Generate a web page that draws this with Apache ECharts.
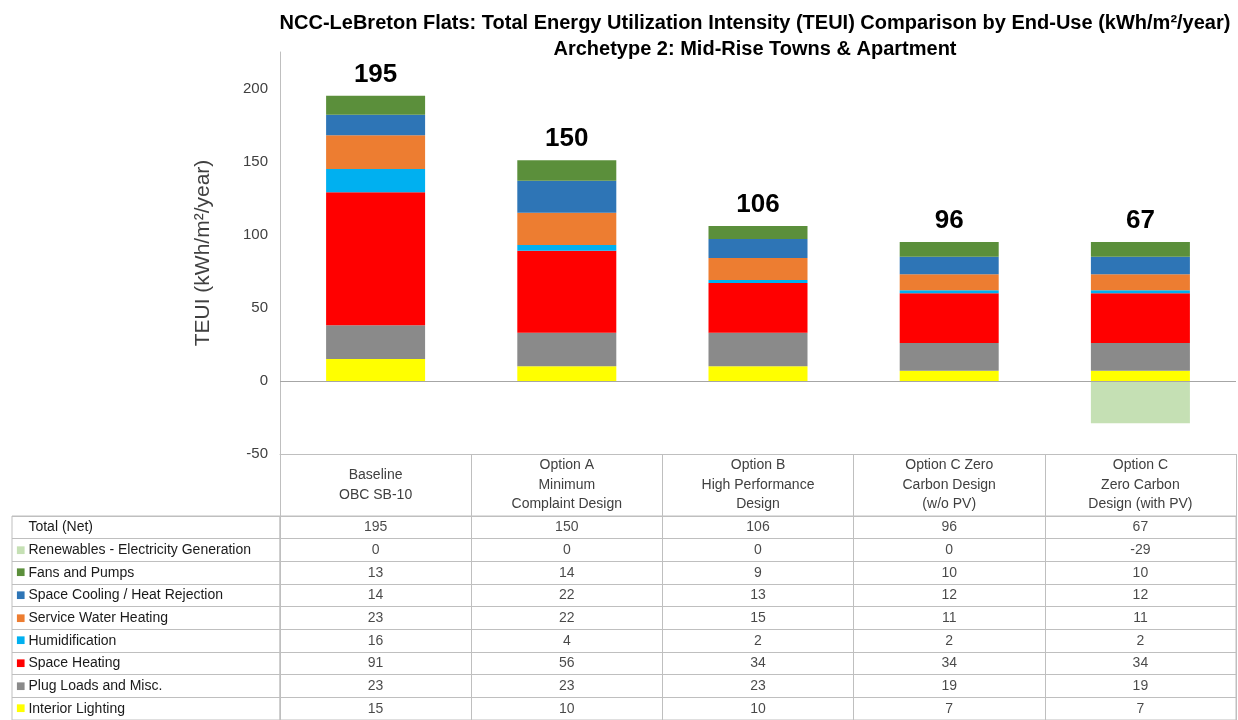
<!DOCTYPE html>
<html>
<head>
<meta charset="utf-8">
<script src="https://cdn.jsdelivr.net/npm/echarts@6/dist/echarts.min.js"></script>
<style>
  html, body { margin: 0; padding: 0; background: #fff; }
  #mychart { width: 1238px; height: 720px; }
</style>
</head>
<body>
<div id="mychart"></div>
<script>
  // categories and values
  var categories = [
    'Baseline\nOBC SB-10',
    'Option A\nMinimum\nComplaint Design',
    'Option B\nHigh Performance\nDesign',
    'Option C Zero\nCarbon Design\n(w/o PV)',
    'Option C\nZero Carbon\nDesign (with PV)'
  ]
  var totals = [195, 150, 106, 96, 67]
  var renewables = [0, 0, 0, 0, -29]
  var fansPumps = [13, 14, 9, 10, 10]
  var spaceCooling = [14, 22, 13, 12, 12]
  var serviceWater = [23, 22, 15, 11, 11]
  var humidification = [16, 4, 2, 2, 2]
  var spaceHeating = [91, 56, 34, 34, 34]
  var plugLoads = [23, 23, 23, 19, 19]
  var interiorLighting = [15, 10, 10, 7, 7]
  var yMin = -50
  var yMax = 225
  var yStep = 50

  var rowNames = [
    'Total (Net)',
    'Renewables - Electricity Generation',
    'Fans and Pumps',
    'Space Cooling / Heat Rejection',
    'Service Water Heating',
    'Humidification',
    'Space Heating',
    'Plug Loads and Misc.',
    'Interior Lighting'
  ]
  var rowValues = [totals, renewables, fansPumps, spaceCooling, serviceWater,
    humidification, spaceHeating, plugLoads, interiorLighting]

  var colors = {
    total: 'rgba(0,0,0,0)',
    renewables: '#c5e0b4',
    fans: '#5b8f3b',
    cooling: '#2e75b6',
    water: '#ed7d31',
    humid: '#00b0f0',
    heating: '#ff0000',
    plug: '#8a8a8a',
    lighting: '#ffff00'
  }
  var rowColors = [colors.total, colors.renewables, colors.fans, colors.cooling,
    colors.water, colors.humid, colors.heating, colors.plug, colors.lighting]

  var lineColor = '#bfbfbf'
  var textColor = '#404040'
  var font = 'Liberation Sans'

  var rich = { t: { fontSize: 14, color: '#1a1a1a', fontFamily: font, padding: [0, 0, 0, 3] } }
  rowColors.forEach(function (c, i) {
    rich['m' + i] = { fontSize: 10, color: c, fontFamily: 'DejaVu Sans' }
  })

  var cells = []
  rowValues.forEach(function (arr, r) {
    arr.forEach(function (v, c) {
      cells.push([c, r, v])
    })
  })

  function barSeries(name, data, color, extra) {
    var s = {
      name: name,
      type: 'bar',
      stack: 'teui',
      barWidth: 99,
      xAxisIndex: 0,
      yAxisIndex: 0,
      itemStyle: { color: color },
      emphasis: { disabled: true },
      data: data
    }
    for (var k in extra) s[k] = extra[k]
    return s
  }

  var chart = echarts.init(document.getElementById('mychart'))
  chart.setOption({
    animation: false,
    title: {
      text: 'NCC-LeBreton Flats: Total Energy Utilization Intensity (TEUI) Comparison by End-Use (kWh/m²/year)\nArchetype 2: Mid-Rise Towns & Apartment',
      left: 750,
      top: 5,
      textAlign: 'center',
      textStyle: {
        fontFamily: font,
        fontSize: 20,
        fontWeight: 'bold',
        color: '#000',
        lineHeight: 26
      }
    },
    grid: [
      { left: 280, right: 2, top: 52, bottom: 266 },
      { left: 12, width: 268, top: 516, height: 205, show: true, borderColor: lineColor, borderWidth: 1 },
      { left: 280, right: 2, top: 516, height: 205, show: true, borderColor: lineColor, borderWidth: 1 }
    ],
    xAxis: [
      {
        gridIndex: 0,
        type: 'category',
        data: categories,
        position: 'bottom',
        axisLine: { onZero: false, lineStyle: { color: lineColor } },
        axisTick: { show: true, length: 62, lineStyle: { color: lineColor } },
        axisLabel: {
          margin: 31,
          verticalAlign: 'middle',
          fontFamily: font,
          fontSize: 14,
          lineHeight: 19.5,
          color: textColor
        }
      },
      {
        gridIndex: 1,
        type: 'category',
        data: [''],
        axisLine: { show: false },
        axisTick: { show: false },
        axisLabel: { show: false }
      },
      {
        gridIndex: 2,
        type: 'category',
        data: categories,
        axisLine: { show: false },
        axisTick: { show: false },
        axisLabel: { show: false },
        splitLine: { show: true, lineStyle: { color: lineColor } }
      }
    ],
    yAxis: [
      {
        gridIndex: 0,
        type: 'value',
        min: yMin,
        max: yMax,
        interval: yStep,
        name: 'TEUI (kWh/m²/year)',
        nameLocation: 'middle',
        nameGap: 66,
        nameTextStyle: { fontFamily: font, fontSize: 21, color: textColor },
        axisLine: { show: true, lineStyle: { color: lineColor } },
        axisTick: { show: false },
        splitLine: { show: false },
        axisLabel: {
          showMaxLabel: false,
          margin: 12,
          fontFamily: font,
          fontSize: 15,
          color: textColor
        }
      },
      {
        gridIndex: 1,
        type: 'category',
        inverse: true,
        data: rowNames,
        axisLine: { show: false },
        axisTick: { show: false },
        splitLine: { show: true, lineStyle: { color: lineColor } },
        axisLabel: {
          inside: true,
          margin: 4,
          formatter: function (val, idx) {
            return '{m' + idx + '|■}{t|' + val + '}'
          },
          rich: rich
        }
      },
      {
        gridIndex: 2,
        type: 'category',
        inverse: true,
        data: rowNames,
        axisLine: { show: false },
        axisTick: { show: false },
        axisLabel: { show: false },
        splitLine: { show: true, lineStyle: { color: lineColor } }
      }
    ],
    series: [
      barSeries('Interior Lighting', interiorLighting, colors.lighting, {
        markLine: {
          silent: true,
          symbol: 'none',
          label: { show: false },
          lineStyle: { color: '#a6a6a6', type: 'solid', width: 1 },
          data: [{ yAxis: 0 }]
        }
      }),
      barSeries('Plug Loads and Misc.', plugLoads, colors.plug),
      barSeries('Space Heating', spaceHeating, colors.heating),
      barSeries('Humidification', humidification, colors.humid),
      barSeries('Service Water Heating', serviceWater, colors.water),
      barSeries('Space Cooling / Heat Rejection', spaceCooling, colors.cooling),
      barSeries('Fans and Pumps', fansPumps, colors.fans, {
        label: {
          show: true,
          position: 'top',
          distance: 8,
          fontFamily: font,
          fontSize: 26,
          fontWeight: 'bold',
          color: '#000',
          formatter: function (p) { return totals[p.dataIndex] }
        }
      }),
      barSeries('Renewables - Electricity Generation', renewables, colors.renewables),
      {
        name: 'table',
        type: 'scatter',
        xAxisIndex: 2,
        yAxisIndex: 2,
        symbolSize: 1,
        itemStyle: { color: 'rgba(0,0,0,0)' },
        silent: true,
        label: {
          show: true,
          position: 'inside',
          fontFamily: font,
          fontSize: 14,
          color: '#1a1a1a',
          formatter: function (p) { return p.value[2] }
        },
        data: cells
      }
    ]
  })
</script>
</body>
</html>
